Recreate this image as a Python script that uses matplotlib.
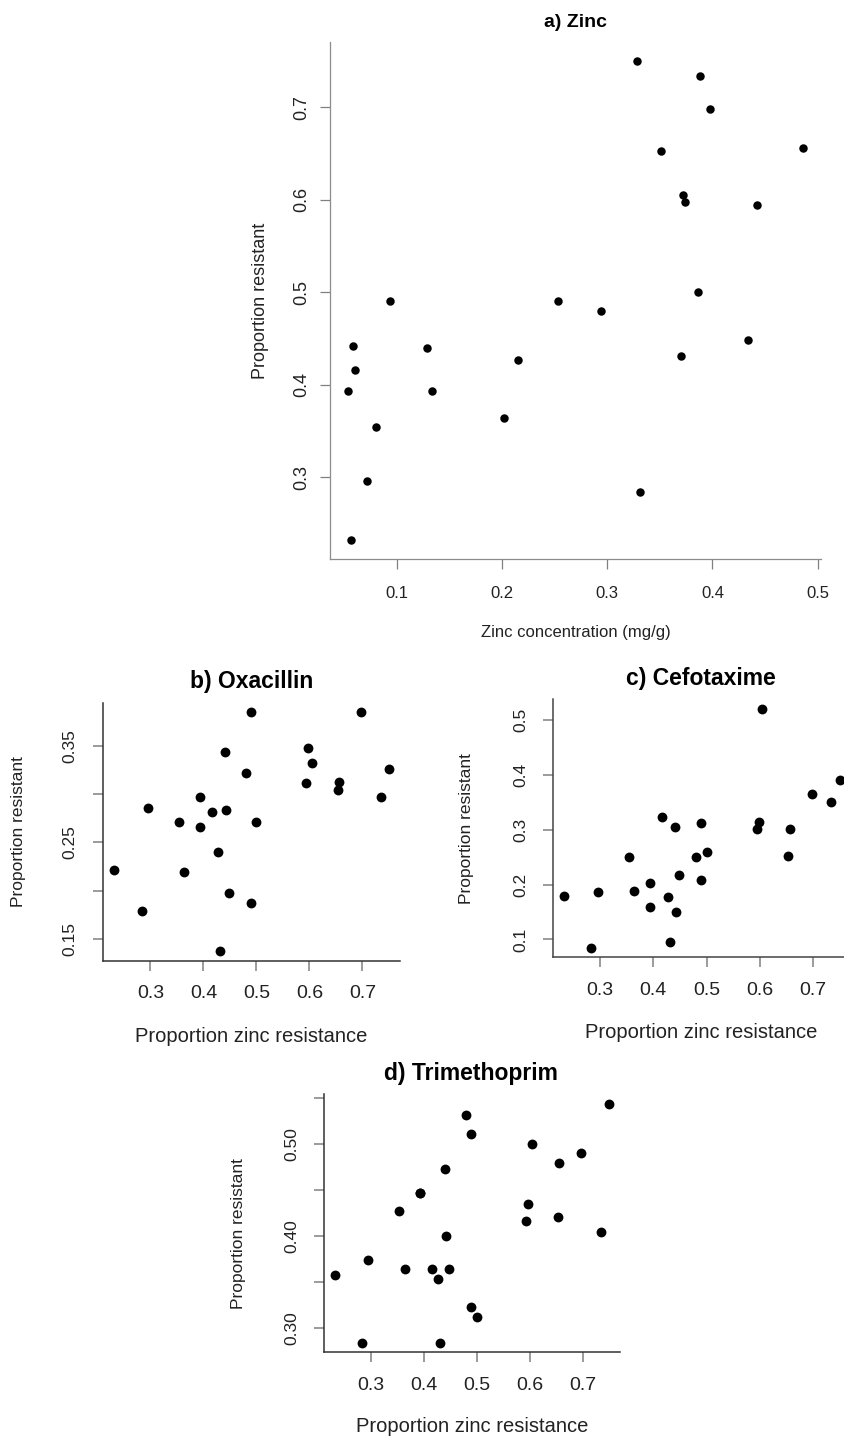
import matplotlib
matplotlib.use('Agg')
import matplotlib.pyplot as plt

# one entry per sampling site, same order in every list
zinc_conc = [0.0565, 0.3315, 0.0717, 0.0797, 0.2014, 0.054, 0.1333, 0.0598, 0.2156, 0.370,
             0.129, 0.0583, 0.434, 0.294, 0.0935, 0.253, 0.386, 0.442, 0.374, 0.372,
             0.351, 0.486, 0.398, 0.388, 0.3286]
zinc_resist = [0.232, 0.284, 0.296, 0.354, 0.364, 0.393, 0.393, 0.416, 0.427, 0.431,
               0.440, 0.442, 0.448, 0.4795, 0.490, 0.490, 0.500, 0.594, 0.598, 0.6045,
               0.653, 0.656, 0.698, 0.734, 0.750]
oxacillin = [0.221, 0.179, 0.2855, 0.271, 0.219, 0.2976, 0.2659, 0.2814, 0.2397, 0.1369,
             0.3438, 0.2841, 0.198, 0.3224, 0.3852, 0.1876, 0.271, 0.312, 0.348, 0.333,
             0.305, 0.3128, 0.3852, 0.2976, 0.3259]
cefotaxime = [0.1788, 0.0848, 0.1867, 0.2497, 0.1873, 0.2024, 0.1594, 0.323, 0.177, 0.0952,
              0.3048, 0.1503, 0.2182, 0.2497, 0.3121, 0.2079, 0.26, 0.3012, 0.3145, 0.52,
              0.2521, 0.3012, 0.3648, 0.351, 0.3909]
trimethoprim = [0.358, 0.2845, 0.3739, 0.4272, 0.3645, 0.4467, 0.4467, 0.3645, 0.354, 0.2845,
                0.473, 0.3998, 0.3645, 0.5314, 0.5105, 0.323, 0.3126, 0.4168, 0.4348, 0.500,
                0.4211, 0.4791, 0.4899, 0.4041, 0.5436]

zinc_xticks = [0.1, 0.2, 0.3, 0.4, 0.5]
zinc_yticks = [0.3, 0.4, 0.5, 0.6, 0.7]
resist_xticks = [0.3, 0.4, 0.5, 0.6, 0.7]
oxa_yticks = [0.15, 0.20, 0.25, 0.30, 0.35]
oxa_ylabels = ['0.15', '', '0.25', '', '0.35']
cef_yticks = [0.1, 0.2, 0.3, 0.4, 0.5]
tri_yticks = [0.30, 0.35, 0.40, 0.45, 0.50, 0.55]
tri_ylabels = ['0.30', '', '0.40', '', '0.50', '']

W, H = 845, 1436


def px_box(left, top, right, bottom):
    return [left / W, 1 - bottom / H, (right - left) / W, (bottom - top) / H]


def fig_xy(x, y):
    return x / W, 1 - y / H


def panel(fig, box, x, y, xticks, yticks, ylabels, title, title_xy, xlabel, xlabel_xy, ylabel_xy,
          dot, line_color, lw, xpad, ypad, xsize, ysize, title_size, xlab_size, ylab_size):
    ax = fig.add_axes(px_box(*box))
    ax.scatter(x, y, s=dot, c='black', linewidths=0)
    ax.margins(0.04)

    ax.set_xticks(xticks)
    ax.set_xticklabels([f'{v:g}' for v in xticks])
    ax.set_yticks(yticks)
    ax.set_yticklabels(ylabels)

    for side in ['top', 'right']:
        ax.spines[side].set_visible(False)
    for side in ['left', 'bottom']:
        ax.spines[side].set_color(line_color)
        ax.spines[side].set_linewidth(lw)

    ax.tick_params(direction='out', length=7.5, width=lw, color='#808080', labelcolor='#222222')
    ax.tick_params(axis='x', pad=xpad, labelsize=xsize)
    ax.tick_params(axis='y', pad=ypad, labelsize=ysize)
    plt.setp(ax.get_yticklabels(), rotation=90, va='center')

    ax.set_xlabel(xlabel, fontsize=xlab_size, color='#222222')
    ax.xaxis.set_label_coords(*fig_xy(*xlabel_xy), transform=fig.transFigure)
    ax.xaxis.label.set_va('center')
    ax.set_ylabel('Proportion resistant', fontsize=ylab_size, color='#222222')
    ax.yaxis.set_label_coords(*fig_xy(*ylabel_xy), transform=fig.transFigure)
    ax.yaxis.label.set_va('center')

    fig.text(*fig_xy(*title_xy), title, ha='center', va='center',
             fontsize=title_size, fontweight='bold')
    return ax


def main():
    plt.rcParams['font.family'] = ['Liberation Sans', 'DejaVu Sans']
    fig = plt.figure(figsize=(W / 100, H / 100), dpi=100)

    # a) zinc concentration vs zinc resistance
    panel(fig, (330.3, 41.7, 821, 559.3), zinc_conc, zinc_resist,
          zinc_xticks, zinc_yticks, [f'{v:g}' for v in zinc_yticks],
          'a) Zinc', (576, 22.5), 'Zinc concentration (mg/g)', (575.5, 632), (261, 300.5),
          dot=37, line_color='#8c8c8c', lw=0.9, xpad=12, ypad=7, xsize=12, ysize=13,
          title_size=14, xlab_size=12, ylab_size=13)

    # b) oxacillin
    panel(fig, (103.3, 702.7, 400, 961), zinc_resist, oxacillin,
          resist_xticks, oxa_yticks, oxa_ylabels,
          'b) Oxacillin', (251.5, 681.7), 'Proportion zinc resistance', (251.5, 1036.7), (19, 832),
          dot=50, line_color='#333333', lw=1.1, xpad=10, ypad=11, xsize=14, ysize=12.5,
          title_size=16.5, xlab_size=14.5, ylab_size=12.5)

    # c) cefotaxime
    panel(fig, (552.7, 699.3, 850.8, 957.3), zinc_resist, cefotaxime,
          resist_xticks, cef_yticks, [f'{v:g}' for v in cef_yticks],
          'c) Cefotaxime', (701.3, 678), 'Proportion zinc resistance', (701.5, 1032.7), (466.7, 829),
          dot=50, line_color='#444444', lw=1.1, xpad=10, ypad=10, xsize=14, ysize=12.5,
          title_size=16.5, xlab_size=14.5, ylab_size=12.5)

    # d) trimethoprim
    panel(fig, (323.6, 1094.3, 620, 1352.3), zinc_resist, trimethoprim,
          resist_xticks, tri_yticks, tri_ylabels,
          'd) Trimethoprim', (470.9, 1073.3), 'Proportion zinc resistance', (471.8, 1426.7), (238.6, 1234),
          dot=50, line_color='#333333', lw=1.1, xpad=10, ypad=10, xsize=14, ysize=12.5,
          title_size=16.5, xlab_size=14.5, ylab_size=12.5)

    fig.savefig('out.png', dpi=100)


if __name__ == "__main__":
    main()
